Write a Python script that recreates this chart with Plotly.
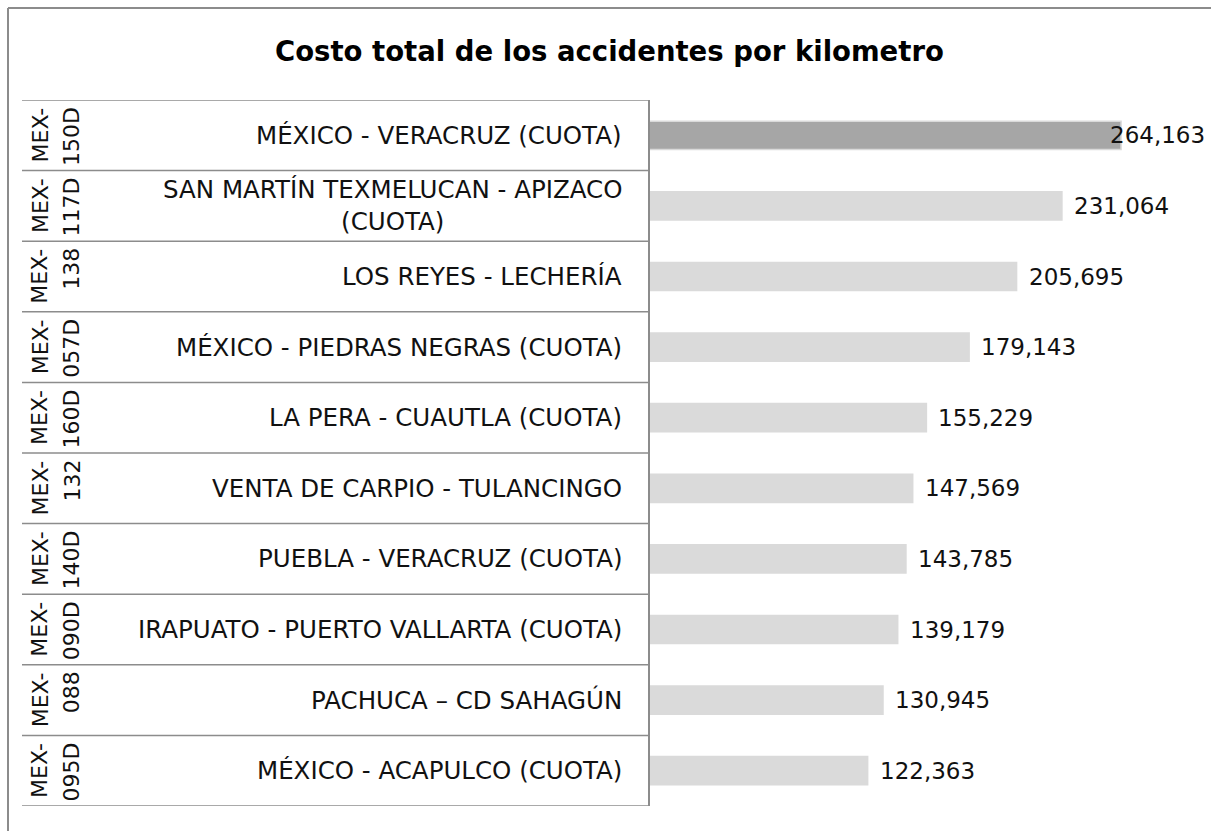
import plotly.graph_objects as go

codes = ["MEX-150D", "MEX-117D", "MEX-138", "MEX-057D", "MEX-160D",
         "MEX-132", "MEX-140D", "MEX-090D", "MEX-088", "MEX-095D"]
names = ["MÉXICO - VERACRUZ (CUOTA)",
         "SAN MARTÍN TEXMELUCAN - APIZACO<br>(CUOTA)",
         "LOS REYES - LECHERÍA",
         "MÉXICO - PIEDRAS NEGRAS (CUOTA)",
         "LA PERA - CUAUTLA (CUOTA)",
         "VENTA DE CARPIO - TULANCINGO",
         "PUEBLA - VERACRUZ (CUOTA)",
         "IRAPUATO - PUERTO VALLARTA (CUOTA)",
         "PACHUCA – CD SAHAGÚN",
         "MÉXICO - ACAPULCO (CUOTA)"]
values = [264163, 231064, 205695, 179143, 155229, 147569, 143785, 139179, 130945, 122363]
title = "Costo total de los accidentes por kilometro"

W, H = 1211, 831
ML, MR, MT, MB = 649, 11, 100, 25
PW = W - ML - MR
PH = H - MT - MB


def px(x):
    return (x - ML) / PW


def py(y):
    return (H - MB - y) / PH


FONT = "DejaVu Sans"
LINE = "#8c8c8c"
idx = list(range(len(values)))
vmax = max(values)
colors = ["#A6A6A6" if v == vmax else "#DADADA" for v in values]
outline = ["#D9D9D9" if v == vmax else "#DADADA" for v in values]

fig = go.Figure(go.Bar(
    x=values, y=idx, orientation="h", width=0.4,
    marker=dict(color=colors, line=dict(color=outline, width=1.5)),
    hoverinfo="skip",
))

ann = []
shapes = []
for i, (c, n, v) in enumerate(zip(codes, names, values)):
    ann.append(dict(xref="paper", yref="y", x=px(624), y=i, text=n, showarrow=False,
                    xanchor="right", yanchor="middle", align="center",
                    font=dict(family=FONT, size=24.5, color="#111")))
    head, tail = c[:4], c[4:]
    for t, cx in ((head, 40), (tail, 71.5)):
        ann.append(dict(xref="paper", yref="y", x=px(cx), y=i - 0.5, yshift=-5,
                        text=t, showarrow=False, textangle=-90,
                        xanchor="center", yanchor="top",
                        font=dict(family=FONT, size=22, color="#111")))
    label = f"{v:,}"
    if v == vmax:
        ann.append(dict(xref="paper", yref="y", x=px(1207), y=i, text=label, showarrow=False,
                        xanchor="right", yanchor="middle",
                        font=dict(family=FONT, size=23, color="#111")))
    else:
        ann.append(dict(xref="x", yref="y", x=v, y=i, xshift=10, text=label, showarrow=False,
                        xanchor="left", yanchor="middle",
                        font=dict(family=FONT, size=23, color="#111")))

for k in range(len(values) + 1):
    shapes.append(dict(type="line", xref="paper", yref="y", x0=px(22), x1=0,
                       y0=k - 0.5, y1=k - 0.5, line=dict(color=LINE, width=1.5)))
shapes.append(dict(type="line", xref="paper", yref="y", x0=0, x1=0,
                   y0=-0.5, y1=len(values) - 0.5, line=dict(color=LINE, width=2)))
# outer chart border (left and top)
shapes.append(dict(type="line", xref="paper", yref="paper", x0=px(8), x1=px(8),
                   y0=py(8), y1=py(H + 10), line=dict(color=LINE, width=2)))
shapes.append(dict(type="line", xref="paper", yref="paper", x0=px(8), x1=px(W + 10),
                   y0=py(8), y1=py(8), line=dict(color=LINE, width=2)))

ann.append(dict(xref="paper", yref="paper", x=px(609), y=py(51), text=f"<b>{title}</b>",
                showarrow=False, xanchor="center", yanchor="middle",
                font=dict(family=FONT, size=27.5, color="#000")))

fig.update_layout(
    width=W, height=H,
    margin=dict(l=ML, r=MR, t=MT, b=MB, pad=0),
    paper_bgcolor="white", plot_bgcolor="white",
    showlegend=False,
    xaxis=dict(range=[0, PW / 0.001787], visible=False, fixedrange=True),
    yaxis=dict(range=[len(values) - 0.5, -0.5], visible=False, fixedrange=True),
    annotations=ann, shapes=shapes,
)

fig.write_html("out.html", config={"displayModeBar": False},
               post_script="document.body.style.margin='0';document.body.style.overflow='hidden';")
